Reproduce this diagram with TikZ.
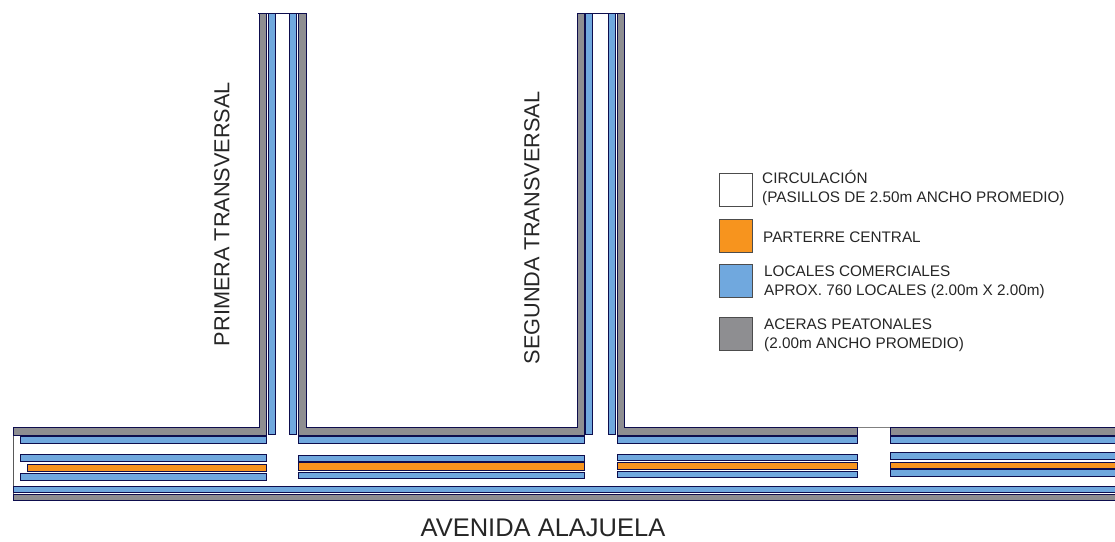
\documentclass[tikz,border=0pt]{standalone}
\usepackage{fontspec}
\setmainfont{Liberation Sans}
\usetikzlibrary{positioning}
\colorlet{penColor}{black!72!blue!90!gray}
\definecolor{localColor}{RGB}{112,168,222}
\definecolor{parterreColor}{RGB}{247,148,30}
\definecolor{aceraColor}{RGB}{142,142,145}
\tikzset{
  local/.style={draw=penColor, fill=localColor, line width=.8pt},
  parterre/.style={draw=penColor, fill=parterreColor, line width=.8pt},
  acera/.style={draw=penColor, fill=aceraColor, line width=.8pt},
  swatch/.style={minimum width=33pt, minimum height=33pt, inner sep=0pt, anchor=north west, line width=.9pt, draw=black!70},
  legendtext/.style={anchor=west, align=left, inner sep=0pt, font=\fontsize{15.3}{19.5}\selectfont, text=black!85},
  streetname/.style={inner sep=0pt, font=\fontsize{21.7}{24}\selectfont, text=black!85}
}
\begin{document}
\begin{tikzpicture}[x=1pt,y=-1pt]
\useasboundingbox (0,0) rectangle (1115,541);
% outline of the pasillos
\draw[black!65, line width=.8pt] (13,427) -- (13,500);
\draw[penColor, line width=.8pt] (258,13) -- (306,13);
\draw[black!50, line width=.6pt] (857,427) -- (890,427);
% aceras
\draw[acera] (13,427) -- (259,427) -- (259,13) -- (266,13) -- (266,435) -- (13,435) -- cycle;
\draw[acera] (298,13) -- (306,13) -- (306,427) -- (577,427) -- (577,13) -- (584,13) -- (584,435) -- (298,435) -- cycle;
\draw[penColor, line width=.8pt] (577,13) -- (624,13);
\draw[acera] (617,13) -- (624,13) -- (624,427) -- (857,427) -- (857,435) -- (617,435) -- cycle;
\draw[acera] (1116,427) -- (890,427) -- (890,435) -- (1116,435);
\draw[acera] (13,494) rectangle (1116,500);
% locales verticales
\draw[local] (268,13) rectangle (275,434);
\draw[local] (289,13) rectangle (296,434);
\draw[local] (585,13) rectangle (592,434);
\draw[local] (608,13) rectangle (615,434);
% locales y parterre, tramo 1
\draw[local] (20,436) rectangle (266,443);
\draw[local] (20,454) rectangle (266,461);
\draw[parterre] (27,464) rectangle (266,471);
\draw[local] (20,473) rectangle (266,480);
% tramo 2
\draw[local] (298,436) rectangle (584,443);
\draw[local] (298,455) rectangle (584,461);
\draw[local] (298,472) rectangle (584,478);
\draw[parterre] (298,462.5) rectangle (584,470);
% tramo 3
\draw[local] (617,436) rectangle (857,443);
\draw[local] (617,454) rectangle (857,460);
\draw[local] (617,471) rectangle (857,477);
\draw[parterre] (617,462) rectangle (857,469);
% tramo 4
\draw[local] (1116,436) -- (890,436) -- (890,443) -- (1116,443);
\draw[local] (1116,452) -- (890,452) -- (890,459) -- (1116,459);
\draw[local] (1116,469.5) -- (890,469.5) -- (890,476) -- (1116,476);
\draw[parterre] (1116,462) -- (890,462) -- (890,468) -- (1116,468);
% avenida
\draw[local] (13,486) rectangle (1116,492.5);
% nombres
\node[streetname, rotate=90] (primera) at (222,214) {PRIMERA TRANSVERSAL};
\node[streetname, rotate=90] (segunda) at (532,228) {SEGUNDA TRANSVERSAL};
\node[streetname, font=\fontsize{25.5}{28}\selectfont] (avenida) at (543,527.5) {AVENIDA ALAJUELA};
% leyenda
\node[swatch, fill=white] (circulacion) at (719,173) {};
\node[swatch, fill=parterreColor] (parterrebox) at (719,219) {};
\node[swatch, fill=localColor] (localbox) at (719,264) {};
\node[swatch, fill=aceraColor] (acerabox) at (719,317) {};
\node[legendtext] (circulaciontext) at (762,188) {CIRCULACIÓN\\(PASILLOS DE 2.50m ANCHO PROMEDIO)};
\node[legendtext] (parterretext) at (763,237) {PARTERRE CENTRAL};
\node[legendtext] (localtext) at (764,282) {LOCALES COMERCIALES\\APROX. 760 LOCALES (2.00m X 2.00m)};
\node[legendtext] (aceratext) at (764,335) {ACERAS PEATONALES\\(2.00m ANCHO PROMEDIO)};
\end{tikzpicture}
\end{document}
